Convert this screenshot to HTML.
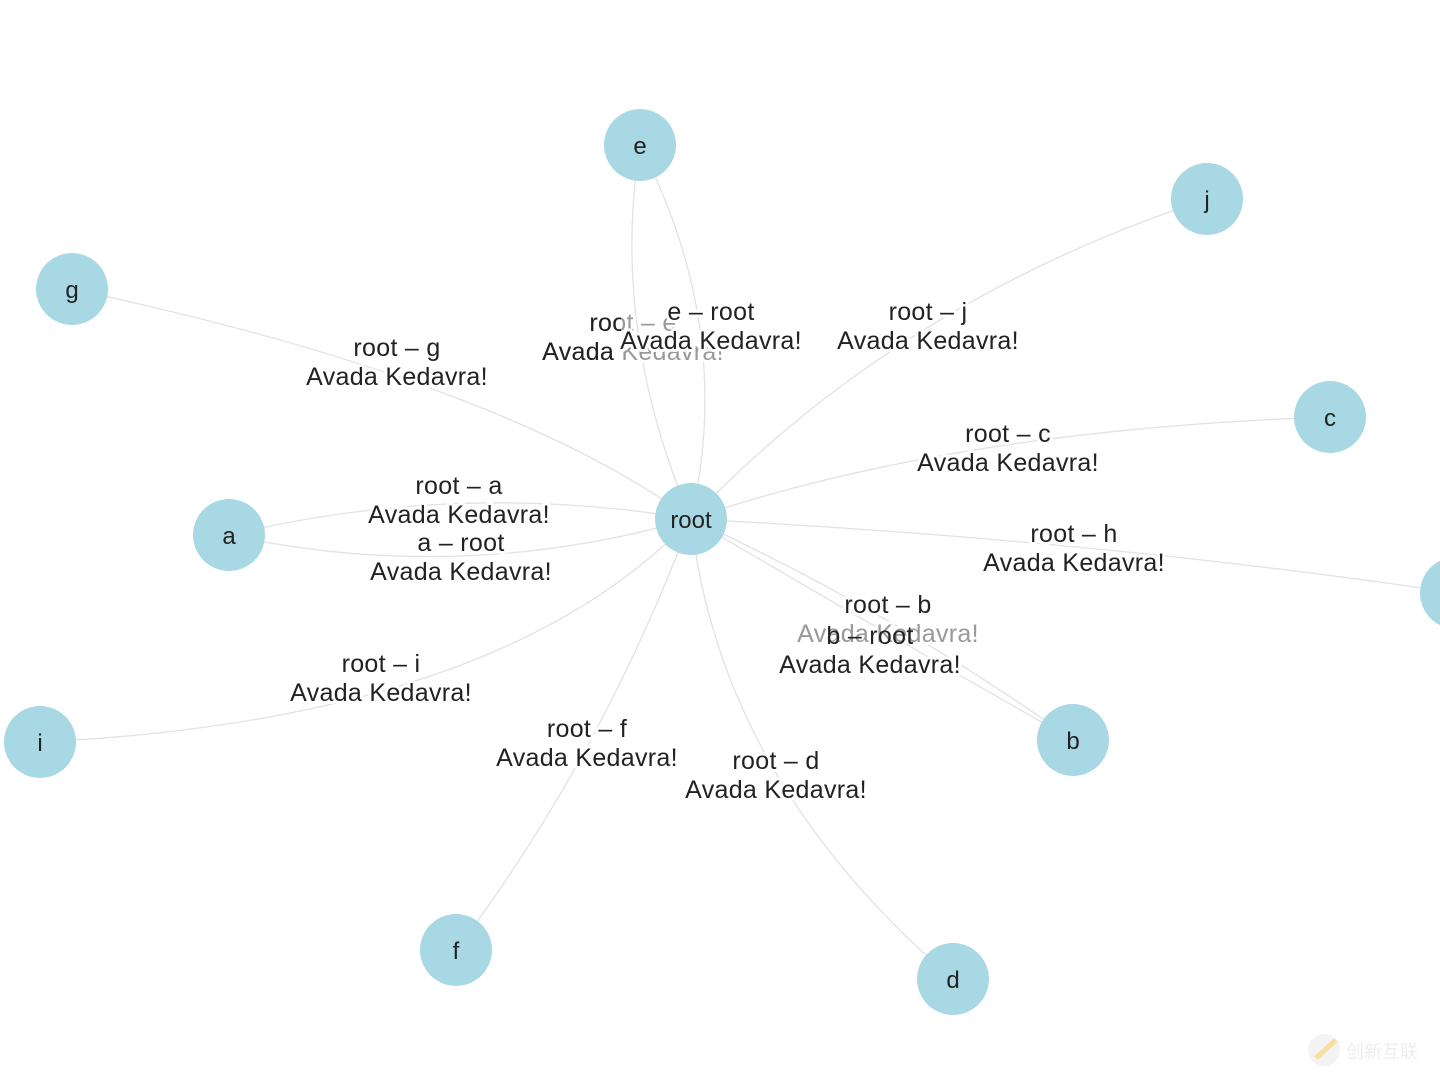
<!DOCTYPE html>
<html><head><meta charset="utf-8"><style>
html,body{margin:0;padding:0;background:#fff;width:1440px;height:1080px;overflow:hidden}
svg text{font-family:"Liberation Sans","Noto Sans CJK SC",sans-serif}
</style></head><body>
<svg width="1440" height="1080" viewBox="0 0 1440 1080" xmlns="http://www.w3.org/2000/svg">
<defs><clipPath id="cl"><rect x="0" y="290" width="621" height="90"/></clipPath></defs>
<g fill="none" stroke="#e2e2e2" stroke-width="1.3">
<path d="M691 519 Q 500 380 72 289"/>
<path d="M691 519 Q 610 330 640 145"/>
<path d="M691 519 Q 735 330 640 145"/>
<path d="M691 519 Q 900 300 1207 199"/>
<path d="M691 519 Q 950 430 1330 417"/>
<path d="M691 519 Q 460 480 229 535"/>
<path d="M691 519 Q 460 585 229 535"/>
<path d="M691 519 Q 1100 540 1456 593"/>
<path d="M691 519 Q 880 630 1073 740"/>
<path d="M691 519 Q 890 610 1073 740"/>
<path d="M691 519 Q 500 720 40 742"/>
<path d="M691 519 Q 600 760 456 950"/>
<path d="M691 519 Q 720 780 953 979"/>
</g>
<g fill="#a8d8e3">
<circle cx="691" cy="519" r="36"/>
<circle cx="640" cy="145" r="36"/>
<circle cx="1207" cy="199" r="36"/>
<circle cx="72" cy="289" r="36"/>
<circle cx="1330" cy="417" r="36"/>
<circle cx="229" cy="535" r="36"/>
<circle cx="1456" cy="593" r="36"/>
<circle cx="40" cy="742" r="36"/>
<circle cx="1073" cy="740" r="36"/>
<circle cx="456" cy="950" r="36"/>
<circle cx="953" cy="979" r="36"/>
</g>
<g font-size="24" fill="#222" text-anchor="middle">
<text x="691" y="528">root</text>
<text x="640" y="154">e</text>
<text x="1207" y="208">j</text>
<text x="72" y="298">g</text>
<text x="1330" y="426">c</text>
<text x="229" y="544">a</text>
<text x="40" y="751">i</text>
<text x="1073" y="749">b</text>
<text x="456" y="959">f</text>
<text x="953" y="988">d</text>
</g>
<g font-size="25" letter-spacing="0.3" text-anchor="middle" stroke="#fff" stroke-width="6" paint-order="stroke" stroke-linejoin="round">
<text x="633" y="331" fill="#999">root – e</text>
<text x="633" y="360" fill="#999">Avada Kedavra!</text>
<g clip-path="url(#cl)" stroke="none">
<text x="633" y="331" fill="#222">root – e</text>
<text x="633" y="360" fill="#222">Avada Kedavra!</text>
</g>
<text x="711" y="320" fill="#222">e – root</text>
<text x="711" y="349" fill="#222">Avada Kedavra!</text>
<text x="397" y="356" fill="#222">root – g</text>
<text x="397" y="385" fill="#222">Avada Kedavra!</text>
<text x="928" y="320" fill="#222">root – j</text>
<text x="928" y="349" fill="#222">Avada Kedavra!</text>
<text x="1008" y="442" fill="#222">root – c</text>
<text x="1008" y="471" fill="#222">Avada Kedavra!</text>
<text x="459" y="494" fill="#222">root – a</text>
<text x="459" y="523" fill="#222">Avada Kedavra!</text>
<text x="461" y="551" fill="#222">a – root</text>
<text x="461" y="580" fill="#222">Avada Kedavra!</text>
<text x="1074" y="542" fill="#222">root – h</text>
<text x="1074" y="571" fill="#222">Avada Kedavra!</text>
<text x="888" y="613" fill="#222">root – b</text>
<text x="888" y="642" fill="#999">Avada Kedavra!</text>
<text x="870" y="644" fill="#222" stroke="none">b – root</text>
<text x="870" y="673" fill="#222">Avada Kedavra!</text>
<text x="381" y="672" fill="#222">root – i</text>
<text x="381" y="701" fill="#222">Avada Kedavra!</text>
<text x="587" y="737" fill="#222">root – f</text>
<text x="587" y="766" fill="#222">Avada Kedavra!</text>
<text x="776" y="769" fill="#222">root – d</text>
<text x="776" y="798" fill="#222">Avada Kedavra!</text>
</g>
<g opacity="0.5">
<circle cx="1324" cy="1050" r="16" fill="#e8e8e8"/>
<path d="M1316 1058 L1336 1040" stroke="#f0c040" stroke-width="5"/>
<text x="1346" y="1058" font-size="18" fill="#ddd">创新互联</text>
</g>
</svg>
</body></html>
